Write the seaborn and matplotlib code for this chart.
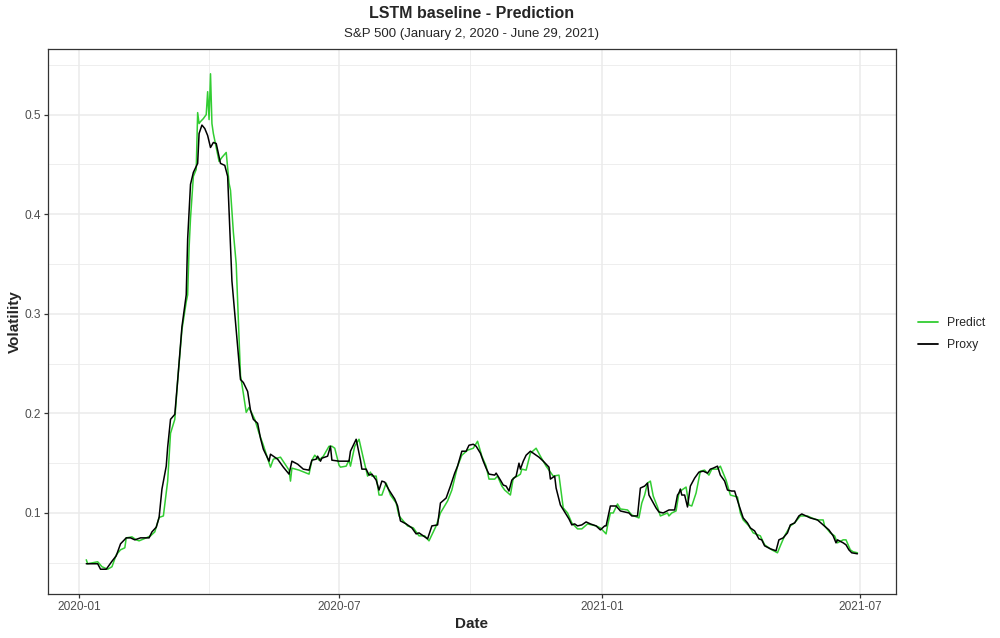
import matplotlib
matplotlib.use("Agg")
import matplotlib.pyplot as plt
import matplotlib.dates as mdates
from matplotlib.ticker import MultipleLocator
from matplotlib.lines import Line2D
import seaborn as sns
import pandas as pd

proxy_dates = [
    "2020-01-06", "2020-01-14", "2020-01-16", "2020-01-20", "2020-01-24", "2020-01-27", "2020-01-30",
    "2020-02-03", "2020-02-06", "2020-02-09", "2020-02-13", "2020-02-19", "2020-02-21", "2020-02-24",
    "2020-02-26", "2020-02-28", "2020-03-02", "2020-03-03", "2020-03-05", "2020-03-08", "2020-03-10",
    "2020-03-13", "2020-03-16", "2020-03-17", "2020-03-19", "2020-03-21", "2020-03-24", "2020-03-25",
    "2020-03-27", "2020-03-29", "2020-03-31", "2020-04-02", "2020-04-04", "2020-04-06", "2020-04-09",
    "2020-04-12", "2020-04-14", "2020-04-17", "2020-04-20", "2020-04-23", "2020-04-25", "2020-04-28",
    "2020-04-30", "2020-05-02", "2020-05-05", "2020-05-07", "2020-05-09", "2020-05-13", "2020-05-14",
    "2020-05-19", "2020-05-23", "2020-05-27", "2020-05-29", "2020-06-02", "2020-06-06", "2020-06-10",
    "2020-06-12", "2020-06-15", "2020-06-16", "2020-06-18", "2020-06-19", "2020-06-23", "2020-06-25",
    "2020-06-26", "2020-07-01", "2020-07-08", "2020-07-09", "2020-07-13", "2020-07-16", "2020-07-17",
    "2020-07-20", "2020-07-22", "2020-07-24", "2020-07-27", "2020-07-29", "2020-07-31", "2020-08-02",
    "2020-08-05", "2020-08-09", "2020-08-11", "2020-08-13", "2020-08-17", "2020-08-21", "2020-08-24",
    "2020-08-26", "2020-08-29", "2020-09-01", "2020-09-04", "2020-09-08", "2020-09-10", "2020-09-14",
    "2020-09-17", "2020-09-20", "2020-09-22", "2020-09-25", "2020-09-28", "2020-09-30", "2020-10-03",
    "2020-10-05", "2020-10-08", "2020-10-10", "2020-10-12", "2020-10-14", "2020-10-18", "2020-10-19",
    "2020-10-22", "2020-10-24", "2020-10-26", "2020-10-28", "2020-10-30", "2020-11-02", "2020-11-04",
    "2020-11-05", "2020-11-07", "2020-11-09", "2020-11-12", "2020-11-15", "2020-11-18", "2020-11-21",
    "2020-11-25", "2020-11-26", "2020-11-29", "2020-11-30", "2020-12-03", "2020-12-06", "2020-12-09",
    "2020-12-11", "2020-12-13", "2020-12-15", "2020-12-18", "2020-12-21", "2020-12-24", "2020-12-28",
    "2020-12-31", "2021-01-03", "2021-01-04", "2021-01-06", "2021-01-07", "2021-01-11", "2021-01-14",
    "2021-01-20", "2021-01-22", "2021-01-26", "2021-01-28", "2021-01-31", "2021-02-02", "2021-02-03",
    "2021-02-08", "2021-02-10", "2021-02-13", "2021-02-17", "2021-02-21", "2021-02-23", "2021-02-24",
    "2021-02-25", "2021-02-26", "2021-02-28", "2021-03-02", "2021-03-04", "2021-03-07", "2021-03-10",
    "2021-03-13", "2021-03-16", "2021-03-18", "2021-03-20", "2021-03-23", "2021-03-25", "2021-03-28",
    "2021-03-30", "2021-04-02", "2021-04-04", "2021-04-07", "2021-04-10", "2021-04-13", "2021-04-15",
    "2021-04-18", "2021-04-21", "2021-04-23", "2021-04-25", "2021-04-29", "2021-05-03", "2021-05-05",
    "2021-05-08", "2021-05-11", "2021-05-13", "2021-05-16", "2021-05-19", "2021-05-21", "2021-05-24",
    "2021-05-27", "2021-06-01", "2021-06-05", "2021-06-09", "2021-06-12", "2021-06-14", "2021-06-15",
    "2021-06-19", "2021-06-21", "2021-06-23", "2021-06-25", "2021-06-29",
]
proxy_values = [
    0.049, 0.049, 0.0435, 0.0435, 0.0515, 0.057, 0.069,
    0.075, 0.075, 0.073, 0.075, 0.075, 0.081, 0.0857,
    0.0955, 0.124, 0.147, 0.166, 0.194, 0.199, 0.233,
    0.287, 0.319, 0.375, 0.43, 0.442, 0.451, 0.481,
    0.4895, 0.486, 0.479, 0.467, 0.472, 0.471, 0.451,
    0.449, 0.438, 0.333, 0.284, 0.234, 0.231, 0.222,
    0.203, 0.194, 0.190, 0.175, 0.164, 0.152, 0.159,
    0.154, 0.146, 0.139, 0.152, 0.149, 0.144, 0.143,
    0.153, 0.154, 0.157, 0.152, 0.155, 0.157, 0.167,
    0.153, 0.152, 0.152, 0.162, 0.174, 0.153, 0.144,
    0.144, 0.138, 0.139, 0.133, 0.123, 0.132, 0.131,
    0.123, 0.114, 0.107, 0.092, 0.089, 0.085, 0.079,
    0.080, 0.077, 0.074, 0.087, 0.088, 0.110, 0.115,
    0.127, 0.140, 0.147, 0.162, 0.162, 0.168, 0.169,
    0.167, 0.160, 0.152, 0.145, 0.139, 0.138, 0.140,
    0.133, 0.128, 0.127, 0.122, 0.133, 0.137, 0.150,
    0.144, 0.152, 0.158, 0.162, 0.159, 0.156, 0.152,
    0.146, 0.134, 0.137, 0.125, 0.108, 0.101, 0.094,
    0.088, 0.089, 0.087, 0.088, 0.091, 0.089, 0.087,
    0.083, 0.087, 0.087, 0.100, 0.107, 0.107, 0.102,
    0.100, 0.097, 0.097, 0.125, 0.127, 0.130, 0.118,
    0.105, 0.101, 0.100, 0.103, 0.103, 0.118, 0.120,
    0.124, 0.118, 0.118, 0.106, 0.127, 0.135, 0.141,
    0.142, 0.140, 0.144, 0.145, 0.147, 0.138, 0.132,
    0.123, 0.122, 0.122, 0.108, 0.095, 0.090, 0.085,
    0.082, 0.074, 0.073, 0.067, 0.064, 0.062, 0.073,
    0.075, 0.080, 0.088, 0.090, 0.097, 0.099, 0.097,
    0.095, 0.093, 0.088, 0.083, 0.077, 0.070, 0.073,
    0.070, 0.068, 0.063, 0.060, 0.059,
]

predict_dates = [
    "2020-01-06", "2020-01-07", "2020-01-14", "2020-01-17", "2020-01-21", "2020-01-24", "2020-01-27",
    "2020-01-30", "2020-02-02", "2020-02-03", "2020-02-07", "2020-02-10", "2020-02-12", "2020-02-17",
    "2020-02-20", "2020-02-23", "2020-02-26", "2020-02-29", "2020-03-03", "2020-03-05", "2020-03-08",
    "2020-03-10", "2020-03-13", "2020-03-16", "2020-03-17", "2020-03-18", "2020-03-19", "2020-03-21",
    "2020-03-23", "2020-03-24", "2020-03-25", "2020-03-26", "2020-03-28", "2020-03-30", "2020-03-31",
    "2020-04-01", "2020-04-02", "2020-04-03", "2020-04-04", "2020-04-06", "2020-04-08", "2020-04-10",
    "2020-04-13", "2020-04-15", "2020-04-16", "2020-04-18", "2020-04-20", "2020-04-23", "2020-04-25",
    "2020-04-27", "2020-04-29", "2020-04-30", "2020-05-03", "2020-05-06", "2020-05-09", "2020-05-14",
    "2020-05-16", "2020-05-21", "2020-05-27", "2020-05-28", "2020-05-29", "2020-06-03", "2020-06-10",
    "2020-06-12", "2020-06-14", "2020-06-17", "2020-06-20", "2020-06-24", "2020-06-26", "2020-06-28",
    "2020-07-01", "2020-07-02", "2020-07-06", "2020-07-08", "2020-07-09", "2020-07-12", "2020-07-15",
    "2020-07-18", "2020-07-21", "2020-07-23", "2020-07-24", "2020-07-27", "2020-07-29", "2020-07-31",
    "2020-08-03", "2020-08-06", "2020-08-10", "2020-08-12", "2020-08-15", "2020-08-18", "2020-08-22",
    "2020-08-26", "2020-08-30", "2020-09-02", "2020-09-07", "2020-09-10", "2020-09-15", "2020-09-18",
    "2020-09-22", "2020-09-25", "2020-09-29", "2020-10-03", "2020-10-06", "2020-10-09", "2020-10-12",
    "2020-10-14", "2020-10-18", "2020-10-20", "2020-10-23", "2020-10-25", "2020-10-29", "2020-10-31",
    "2020-11-03", "2020-11-05", "2020-11-06", "2020-11-09", "2020-11-12", "2020-11-16", "2020-11-19",
    "2020-11-23", "2020-11-28", "2020-12-02", "2020-12-05", "2020-12-08", "2020-12-11", "2020-12-15",
    "2020-12-18", "2020-12-22", "2020-12-28", "2020-12-31", "2021-01-04", "2021-01-05", "2021-01-07",
    "2021-01-09", "2021-01-12", "2021-01-14", "2021-01-19", "2021-01-22", "2021-01-27", "2021-01-29",
    "2021-01-31", "2021-02-02", "2021-02-04", "2021-02-06", "2021-02-09", "2021-02-11", "2021-02-16",
    "2021-02-17", "2021-02-19", "2021-02-22", "2021-02-24", "2021-02-26", "2021-03-01", "2021-03-03",
    "2021-03-05", "2021-03-08", "2021-03-11", "2021-03-14", "2021-03-17", "2021-03-19", "2021-03-23",
    "2021-03-25", "2021-03-29", "2021-04-01", "2021-04-06", "2021-04-08", "2021-04-10", "2021-04-14",
    "2021-04-17", "2021-04-22", "2021-04-25", "2021-04-30", "2021-05-04", "2021-05-06", "2021-05-09",
    "2021-05-13", "2021-05-16", "2021-05-20", "2021-05-25", "2021-05-28", "2021-06-01", "2021-06-05",
    "2021-06-06", "2021-06-10", "2021-06-13", "2021-06-15", "2021-06-19", "2021-06-21", "2021-06-24",
    "2021-06-26", "2021-06-29",
]
predict_values = [
    0.053, 0.049, 0.051, 0.046, 0.0435, 0.046, 0.058,
    0.063, 0.065, 0.075, 0.076, 0.073, 0.072, 0.075,
    0.077, 0.081, 0.0955, 0.097, 0.132, 0.180, 0.194,
    0.233, 0.284, 0.312, 0.319, 0.366, 0.396, 0.438,
    0.445, 0.502, 0.491, 0.493, 0.496, 0.500, 0.523,
    0.495, 0.541, 0.491, 0.481, 0.467, 0.453, 0.457,
    0.462, 0.431, 0.424, 0.382, 0.350, 0.238, 0.220,
    0.201, 0.206, 0.203, 0.194, 0.180, 0.168, 0.146,
    0.154, 0.156, 0.143, 0.132, 0.145, 0.143, 0.139,
    0.153, 0.158, 0.153, 0.157, 0.167, 0.167, 0.165,
    0.148, 0.146, 0.147, 0.153, 0.147, 0.167, 0.174,
    0.155, 0.137, 0.141, 0.137, 0.137, 0.118, 0.118,
    0.130, 0.118, 0.110, 0.097, 0.092, 0.087, 0.085,
    0.077, 0.077, 0.072, 0.087, 0.100, 0.112, 0.123,
    0.147, 0.158, 0.163, 0.165, 0.172, 0.157, 0.147,
    0.134, 0.134, 0.137, 0.127, 0.123, 0.118, 0.135,
    0.137, 0.139, 0.144, 0.143, 0.160, 0.165, 0.157,
    0.147, 0.137, 0.138, 0.105, 0.100, 0.090, 0.084,
    0.084, 0.089, 0.087, 0.085, 0.079, 0.087, 0.100,
    0.100, 0.109, 0.104, 0.103, 0.098, 0.095, 0.110,
    0.118, 0.130, 0.132, 0.117, 0.106, 0.097, 0.100,
    0.097, 0.100, 0.102, 0.120, 0.123, 0.126, 0.108,
    0.107, 0.120, 0.142, 0.143, 0.138, 0.144, 0.144,
    0.147, 0.133, 0.118, 0.116, 0.100, 0.093, 0.087,
    0.080, 0.077, 0.068, 0.063, 0.060, 0.067, 0.077,
    0.087, 0.090, 0.097, 0.097, 0.095, 0.093, 0.093,
    0.087, 0.080, 0.077, 0.070, 0.073, 0.073, 0.063,
    0.061, 0.060,
]

series_names = ["Predict", "Proxy"]
series_colors = ["#32CD32", "#000000"]

title_text = "LSTM baseline - Prediction"
subtitle_text = "S&P 500 (January 2, 2020 - June 29, 2021)"
x_label = "Date"
y_label = "Volatility"

df = pd.concat([
    pd.DataFrame({"Date": pd.to_datetime(predict_dates), "Volatility": predict_values, "Series": series_names[0]}),
    pd.DataFrame({"Date": pd.to_datetime(proxy_dates), "Volatility": proxy_values, "Series": series_names[1]}),
], ignore_index=True)

sns.set_theme(style="white")
plt.rcParams["font.family"] = ["Liberation Sans", "DejaVu Sans"]

fig = plt.figure(figsize=(10, 6.38), dpi=100)
ax = fig.add_axes([0.0477, 1 - 594 / 638, (896 - 47.7) / 1000, (594 - 49) / 638])

sns.lineplot(data=df, x="Date", y="Volatility", hue="Series", hue_order=series_names,
             palette=dict(zip(series_names, series_colors)), estimator=None,
             linewidth=1.1, ax=ax, legend=False)

ax.margins(x=0.05, y=0.05)

ax.xaxis.set_major_locator(mdates.MonthLocator(bymonth=[1, 7]))
ax.xaxis.set_minor_locator(mdates.MonthLocator(bymonth=[4, 10]))
ax.xaxis.set_major_formatter(mdates.DateFormatter("%Y-%m"))
ax.yaxis.set_major_locator(MultipleLocator(0.1))
ax.yaxis.set_minor_locator(MultipleLocator(0.05))

ax.set_facecolor("white")
ax.grid(True, which="major", color="#EBEBEB", linewidth=1.1)
ax.grid(True, which="minor", color="#EBEBEB", linewidth=0.6)
ax.set_axisbelow(True)
for s in ax.spines.values():
    s.set_color("#333333")
    s.set_linewidth(0.9)

ax.tick_params(axis="both", which="major", length=3, width=0.9, color="#333333",
               labelsize=8.6, labelcolor="#4D4D4D", pad=2, bottom=True, left=True)
ax.tick_params(axis="both", which="minor", length=0)

ax.set_xlabel(x_label, fontsize=11, fontweight="bold", labelpad=3)
ax.set_ylabel(y_label, fontsize=11, fontweight="bold", labelpad=2)

cx = (47.7 + 896) / 2 / 1000
fig.text(cx, 1 - 14 / 638, title_text, ha="center", va="center", fontsize=11.5, fontweight="bold")
fig.text(cx, 1 - 34.5 / 638, subtitle_text, ha="center", va="center", fontsize=9.5)

handles = [Line2D([], [], color=c, linewidth=1.3) for c in series_colors]
fig.legend(handles, series_names, loc="center left", bbox_to_anchor=(0.918, 1 - 334 / 638),
           frameon=False, fontsize=8.8, handlelength=1.6, handletextpad=0.75,
           labelspacing=0.85, borderpad=0, borderaxespad=0)

fig.savefig("out.png", dpi=100, facecolor="white")
